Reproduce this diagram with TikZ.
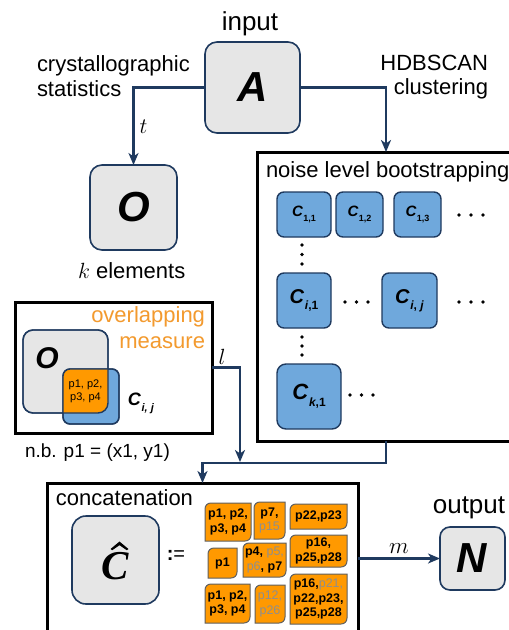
\RequirePackage{fix-cm}
\documentclass[tikz,border=0pt]{standalone}
\usepackage{fontspec}
\setmainfont{Liberation Sans}
\newfontfamily\serifbi{Liberation Serif}
\usetikzlibrary{arrows.meta}

\definecolor{navy}{HTML}{1F3A5F}
\definecolor{boxgray}{HTML}{E6E6E6}
\definecolor{cblue}{HTML}{6FA8DC}
\definecolor{leaforange}{HTML}{FF9900}
\definecolor{leafedge}{HTML}{5F5F5F}
\definecolor{lgray}{HTML}{8E8E8E}
\definecolor{measureorange}{HTML}{F39A2E}

\newcommand\fsz[1]{\fontsize{#1}{#1}\selectfont}
\newcommand\biglet[1]{\fsz{42}\textbf{\textit{#1}}}
% cluster label C with a lowered subscript: #1 size of C, #2 size of index, #3 index
\newcommand\clab[3]{\fsz{#1}\textbf{\textit{C}}\kern0.03em\raisebox{-0.32em}{\fsz{#2}\textbf{#3}}}
\newcommand\gp[1]{{\mdseries\color{lgray}#1}}
% orange box with rounded top-left and bottom-right corners
\newcommand\leafbox[6]{%
  \draw[leaf] (#2,#3+6) .. controls (#2,#3+2.5) and (#2+2.5,#3) .. (#2+6,#3)
    -- (#4,#3) -- (#4,#5-6) .. controls (#4,#5-2.5) and (#4-2.5,#5) .. (#4-6,#5)
    -- (#2,#5) -- cycle;
  \node[leaftext] (#1) at ({(#2+#4)/2},{(#3+#5)/2}) {#6};}
% three dots in a row (#3=h) or column (#3=v), first dot at (#1,#2), step #4
\newcommand\dotline[4]{%
  \foreach \k in {0,1,2}{%
    \ifx h#3\fill (#1+\k*#4,#2) circle (1.9);\else\fill (#1,#2+\k*#4) circle (1.9);\fi}}

\begin{document}
\begin{tikzpicture}[x=1pt,y=-1pt,
  every node/.style={inner sep=0pt, outer sep=0pt},
  lbl/.style={font=\fontsize{22}{26}\selectfont},
  conn/.style={draw=navy, line width=2.5pt},
  arr/.style={conn, -{Stealth[length=12pt,width=10pt,inset=3.5pt]}},
  graybox/.style={draw=navy, line width=1.6pt, fill=boxgray, rounded corners=12pt},
  bluebox/.style={draw=navy, line width=1.4pt, fill=cblue, rounded corners=7pt},
  frame/.style={draw=black, line width=3pt},
  leaf/.style={draw=leafedge, line width=1pt, fill=leaforange},
  leaftext/.style={font=\fontsize{12.5}{14.5}\selectfont\bfseries, align=center},
]
\clip (0,0) rectangle (509,630);
\fill[white] (0,0) rectangle (509,630);

% ---- input matrix and its two branches ----
\node[font=\fsz{26}, anchor=base] (inlbl) at (250,30) {input};
\node[graybox, minimum width=95pt, minimum height=91pt] (A) at (252.5,87.5) {\biglet{A}};
\node[lbl, anchor=base west] (cry1) at (37,71) {crystallographic};
\node[lbl, anchor=base west] (cry2) at (37,96) {statistics};
\node[lbl, anchor=base east] (hdb1) at (488,70) {HDBSCAN};
\node[lbl, anchor=base east] (hdb2) at (488,94) {clustering};

\node[graybox, minimum width=87pt, minimum height=85pt] (O) at (133.5,207.5) {\biglet{O}};
\node[lbl, anchor=base west] (kel) at (78,278) {$k$ elements};
\draw[arr] (A.west) -| (O.north) node[pos=0.75, right=6pt, lbl] (tlbl) {$t$};

% ---- noise level bootstrapping ----
\node[frame, minimum width=258pt, minimum height=289pt, anchor=north west] (noise) at (257,152) {};
\draw[arr] (A.east) -| (noise.north);
\node[lbl, anchor=base west] (nlb) at (266,177) {noise level bootstrapping};

\node[bluebox, minimum width=54pt, minimum height=45pt] (c11) at (304,214.5) {\clab{15}{9}{1,1}};
\node[bluebox, minimum width=47pt, minimum height=45pt] (c12) at (359.5,214.5) {\clab{15}{9}{1,2}};
\node[bluebox, minimum width=47pt, minimum height=45pt] (c13) at (417.5,214.5) {\clab{15}{9}{1,3}};
\node[bluebox, minimum width=54pt, minimum height=55pt] (ci1) at (304,300.5) {\clab{20}{12}{\textit{i},1}};
\node[bluebox, minimum width=55pt, minimum height=55pt] (cij) at (409.5,300.5) {\clab{20}{12}{\textit{i}, \textit{j}}};
\node[bluebox, rounded corners=9pt, minimum width=64pt, minimum height=65pt] (ck1) at (309,396.5) {\clab{22}{12}{\textit{k},1}};

\dotline{459}{215}{h}{12}
\dotline{345}{302}{h}{11.5}
\dotline{459}{302}{h}{12}
\dotline{350}{395}{h}{11.5}
\dotline{302}{245}{v}{9.5}
\dotline{302}{337}{v}{9}

% ---- overlapping measure ----
\node[frame, minimum width=197pt, minimum height=131pt, anchor=north west] (ovl) at (15,302) {};
\node[lbl, text=measureorange, anchor=base east] (ov1) at (205,322) {overlapping};
\node[lbl, text=measureorange, anchor=base east] (ov2) at (205,348) {measure};
\node[graybox, rounded corners=10pt, line width=1.4pt, minimum width=85pt, minimum height=83pt, anchor=north west] (og) at (23,330) {};
\node[bluebox, minimum width=56pt, minimum height=55pt, anchor=north west] (cb) at (63,369) {};
\begin{scope}
  \clip[rounded corners=10pt] (og.south west) rectangle (og.north east);
  \fill[leaforange, rounded corners=7pt] (cb.south west) rectangle (cb.north east);
\end{scope}
\draw[navy, line width=1.4pt, rounded corners=10pt] (og.south west) rectangle (og.north east);
\draw[navy, line width=1.4pt, rounded corners=7pt] (cb.south west) rectangle (cb.north east);
\node[font=\fsz{30}] (ovO) at (47,358) {\textbf{\textit{O}}};
\node[font=\fontsize{11}{13}\selectfont, align=center] (ovp) at (85.5,391) {p1, p2,\\p3, p4};
\node (ovc) at (141,403) {\clab{18}{11}{\textit{i, j}}};
\node[font=\fsz{19}, anchor=base west] (nb) at (25,457) {n.b. p1 = (x1, y1)};

% ---- concatenation ----
\node[frame, minimum width=311pt, minimum height=200pt, anchor=north west] (concat) at (47,483) {};
\coordinate (lend) at (240,462);
\draw[arr] (ovl.east) -| (lend);
\node[lbl] (llbl) at (222,357) {$l$};
\draw[arr] (noise.south) -- ++(0,22) -| (concat.north);

\node[lbl, anchor=base west] (clb) at (56,505) {concatenation};
\node[graybox, rounded corners=14pt, minimum width=87pt, minimum height=88pt,
      font=\serifbi\bfseries\itshape\fsz{41}, text height=38pt, text depth=0pt] (Chat) at (115.5,560) {C};
% circumflex over the C
\fill (Chat.center) ++(-5,-11) -- ++(9,-7.5) -- ++(9,7.5) -- ++(-1.8,1.2)
  -- ++(-7.2,-5) -- ++(-7.2,5) -- cycle;
\node[font=\fsz{20}] (defeq) at (176,555) {\textbf{:}=};

\leafbox{b1}{205}{503}{251}{541}{p1, p2,\\p3, p4}
\leafbox{b2}{254}{502}{285}{539}{p7,\\\gp{p15}}
\leafbox{b3}{290}{504}{347}{529}{p22,p23}
\leafbox{b4}{208}{548}{237}{578}{p1}
\leafbox{b5}{243}{543}{286}{577}{p4, \gp{p5,}\\\gp{p6}, p7}
\leafbox{b6}{290}{535}{347}{567}{p16,\\p25,p28}
\leafbox{b7}{205}{584}{250}{623}{p1, p2,\\p3, p4}
\leafbox{b8}{255}{585}{285}{623}{\gp{p12,}\\\gp{p26}}
\leafbox{b9}{290}{574}{347}{624}{p16,\gp{p21,}\\p22,p23,\\p25,p28}

% ---- output ----
\node[font=\fsz{26}, anchor=base] (outlbl) at (469,513) {output};
\node[graybox, rounded corners=10pt, minimum width=65pt, minimum height=63pt] (N) at (472.5,558.5) {\biglet{N}};
\draw[arr] (concat.east |- N.west) -- (N.west) node[midway, above=5pt, font=\fsz{23}] (mlbl) {$m$};
\end{tikzpicture}
\end{document}
